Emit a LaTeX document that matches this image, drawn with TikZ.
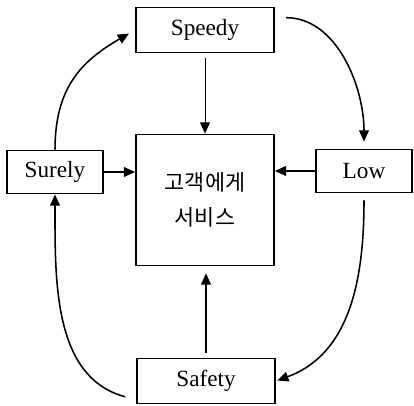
\documentclass[tikz,border=0pt]{standalone}
\usepackage{fontspec}
\setmainfont{Liberation Serif}
\newfontfamily\krfont{Noto Sans CJK KR}
\usetikzlibrary{arrows.meta}
\begin{document}
\begin{tikzpicture}[x=0.025cm,y=-0.025cm,line width=1.1pt,
    box/.style={rectangle,draw,line width=1.2pt,minimum width=3.45cm,minimum height=1.125cm,font=\fontsize{16.5}{19}\selectfont},
    sbox/.style={box,minimum width=2.4cm,minimum height=1.08cm},
    core/.style={rectangle,draw,line width=1.2pt,minimum width=3.45cm,minimum height=3.275cm,align=center,font=\krfont\fontsize{15.5}{25}\selectfont},
    arr/.style={-{Triangle[length=8pt,width=7pt]}},
    loop/.style={arr,line width=1.1pt}]
  \useasboundingbox (0,0) rectangle (414,406);
  \node[box] (speedy) at (205,30) {Speedy};
  \node[core] (svc) at (205,200) {고객에게\\서비스};
  \node[sbox] (surely) at (55,172) {Surely};
  \node[sbox] (low) at (364,171) {Low};
  \node[box] (safety) at (206,381) {Safety};
  \draw[arr,line width=0.7pt,shorten <=3pt] (speedy) -- (speedy |- svc.north);
  \draw[arr] (surely) -- (surely -| svc.west);
  \draw[arr] (low) -- (low -| svc.east);
  \draw[arr,shorten <=3pt,shorten >=5pt] (safety) -- (safety |- svc.south);
  % the four outer curves
  \draw[loop,shorten >=5pt,looseness=1.1] (surely.north) to[out=90,in=210] (speedy.west);
  \draw[loop,shorten <=8pt,shorten >=5pt] (speedy.10) to[out=0,in=90] (low.north);
  \draw[loop,shorten <=5pt,shorten >=1pt] (low.south) to[out=-90,in=20] (safety.east);
  \draw[loop,shorten <=8pt] (safety.195) to[out=165,in=-90] (surely.south);
\end{tikzpicture}
\end{document}
